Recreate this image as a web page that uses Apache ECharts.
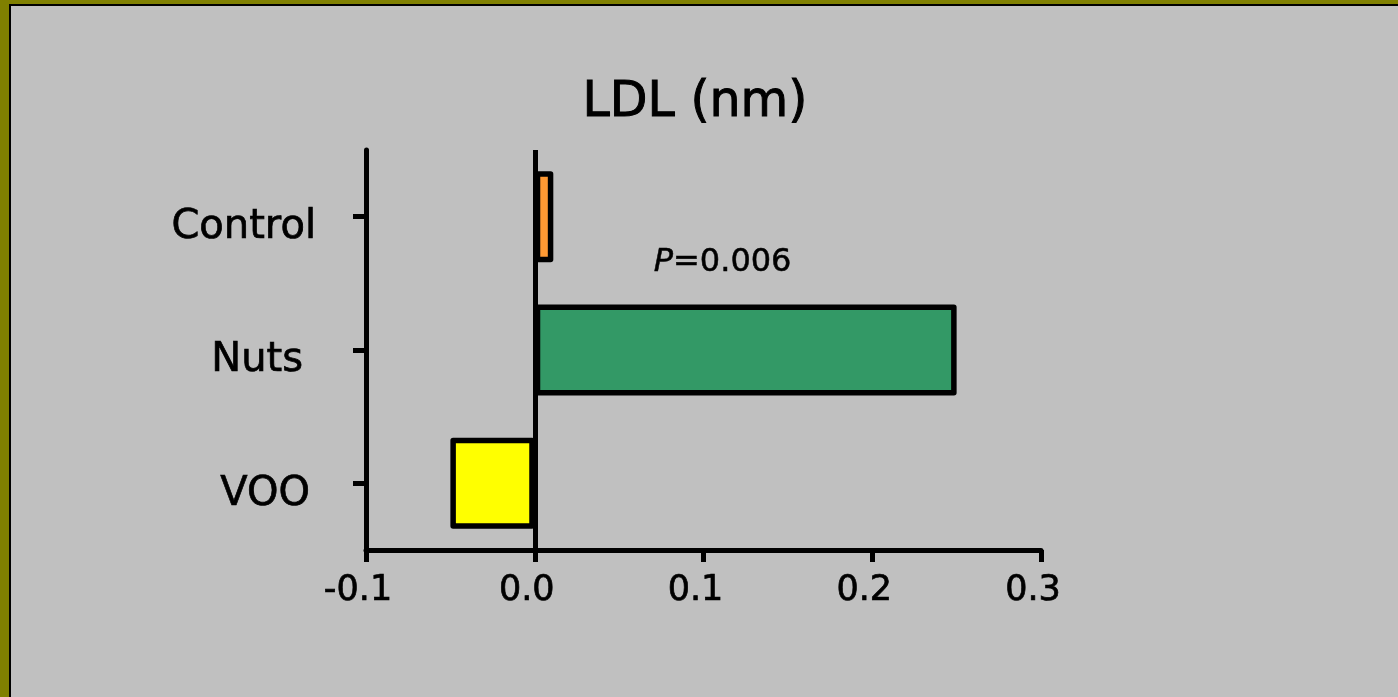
<!DOCTYPE html>
<html>
<head>
<meta charset="utf-8">
<script src="https://cdn.jsdelivr.net/npm/echarts@6/dist/echarts.min.js"></script>
<style>
html,body{margin:0;padding:0;background:#808000;}
#chart{width:1398px;height:697px;}
</style>
</head>
<body>
<div id="chart"></div>
<script>
const categories = ['Control', 'Nuts', 'VOO'];
const values = [0.011, 0.25, -0.05];
const barColors = ['#FF9933', '#339966', '#FFFF00'];
const xTicks = [-0.1, 0.0, 0.1, 0.2, 0.3];
const annotation = 'P=0.006';

const FONT = 'DejaVu Sans';
const chart = echarts.init(document.getElementById('chart'), null, {renderer: 'canvas'});

// per-label right padding (styling only)
const labelPad = {Control: 0, Nuts: 13, VOO: 6};
const richCat = {};
Object.keys(labelPad).forEach((k, i) => {
  richCat['c' + i] = {
    fontFamily: FONT, fontSize: 40, color: '#000', lineHeight: 22,
    textBorderColor: '#000', textBorderWidth: 0.7,
    padding: [0, labelPad[k], 0, 0]
  };
});

const seriesData = values.map((v, i) => {
  const item = {value: v, itemStyle: {color: barColors[i]}};
  if (categories[i] === 'Nuts') {
    item.label = {
      show: true,
      position: [119, -58],
      align: 'left',
      verticalAlign: 'top',
      formatter: '{i|P}{n|' + annotation.slice(1) + '}',
      rich: {
        i: {fontFamily: FONT, fontSize: 32, fontStyle: 'italic', color: '#000', textBorderColor: '#000', textBorderWidth: 0.5},
        n: {fontFamily: FONT, fontSize: 32, color: '#000', textBorderColor: '#000', textBorderWidth: 0.5}
      }
    };
  }
  return item;
});

const option = {
  backgroundColor: '#808000',
  animation: false,
  graphic: [{
    type: 'rect',
    z: -10,
    shape: {x: 10, y: 5, width: 1400, height: 700},
    style: {fill: '#C0C0C0', stroke: '#000', lineWidth: 2}
  }],
  title: {
    text: 'LDL (nm)',
    left: 690,
    top: 74,
    textAlign: 'center',
    textStyle: {fontFamily: FONT, fontSize: 49, fontWeight: 'normal', color: '#000', textBorderColor: '#000', textBorderWidth: 1}
  },
  grid: {left: 366, right: 357, top: 150, bottom: 147, containLabel: false},
  xAxis: {
    type: 'value',
    min: xTicks[0],
    max: xTicks[xTicks.length - 1],
    interval: 0.1,
    splitLine: {show: false},
    axisLine: {show: true, onZero: false, lineStyle: {color: '#000', width: 5}},
    axisTick: {show: true, inside: false, length: 12, lineStyle: {color: '#000', width: 5}},
    axisLabel: {
      margin: 23,
      fontFamily: FONT, fontSize: 35, color: '#000',
      textBorderColor: '#000', textBorderWidth: 0.7,
      padding: [0, 16, 0, 0],
      formatter: v => v.toFixed(1)
    }
  },
  yAxis: {
    type: 'category',
    data: categories,
    inverse: true,
    axisLine: {show: true, onZero: false, lineStyle: {color: '#000', width: 5}},
    axisTick: {show: true, alignWithLabel: true, length: 13, lineStyle: {color: '#000', width: 5}},
    axisLabel: {
      margin: 50,
      verticalAlign: 'top',
      lineHeight: 22,
      fontFamily: FONT, fontSize: 40, color: '#000',
      formatter: v => '{c' + Object.keys(labelPad).indexOf(v) + '|' + v + '}',
      rich: richCat
    },
    splitLine: {show: false}
  },
  series: [{
    type: 'bar',
    data: seriesData,
    barWidth: 91,
    itemStyle: {borderColor: '#000', borderWidth: 5.5, borderJoin: 'round'},
    markLine: {
      silent: true,
      symbol: ['none', 'none'],
      label: {show: false},
      lineStyle: {color: '#000', width: 5, type: 'solid'},
      data: [{xAxis: 0}]
    }
  }]
};
chart.setOption(option);
</script>
</body>
</html>
